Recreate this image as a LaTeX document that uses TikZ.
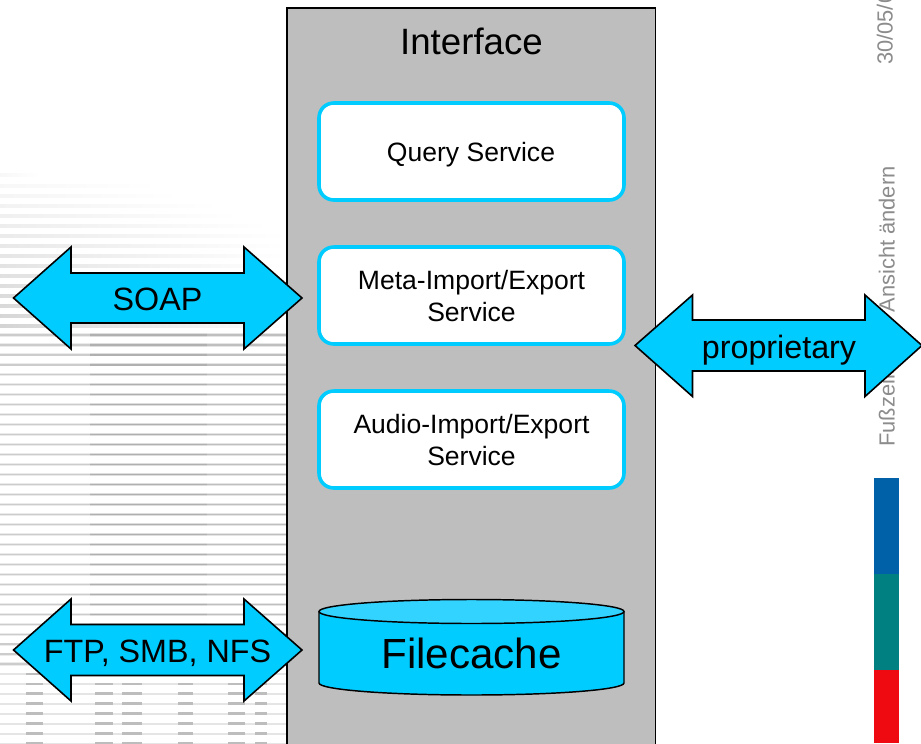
\documentclass[tikz,border=0pt]{standalone}
\usepackage{fontspec}
\setmainfont{Liberation Sans}
\definecolor{cyanfill}{HTML}{00CCFF}
\definecolor{cyantop}{HTML}{33D3FF}
\definecolor{panel}{HTML}{BEBEBE}
\definecolor{footgrey}{HTML}{8C8C8C}
\definecolor{barblue}{HTML}{0060A8}
\definecolor{barteal}{HTML}{008080}
\definecolor{barred}{HTML}{EE0A10}
\tikzset{
  service/.style={draw=cyanfill,line width=2.7pt,fill=white,rounded corners=11pt,minimum width=228.7pt,minimum height=72.7pt,inner sep=0pt},
  servicetext/.style={inner sep=0pt,align=center,font=\fontsize{19.9}{23.8}\selectfont},
  dblarrow/.style={draw=black,line width=1.2pt,fill=cyanfill,line join=miter},
  arrowtext/.style={inner sep=0pt,anchor=base,font=\fontsize{24.2}{28}\selectfont},
  foot/.style={rotate=90,anchor=base west,text=footgrey,inner sep=0pt,font=\fontsize{16.4}{19}\selectfont}
}
\begin{document}
\begin{tikzpicture}[x=0.75pt,y=-0.75pt]
\useasboundingbox (0,0) rectangle (921,743);
\fill[white] (0,0) rectangle (921,743);
% background stripes: fading rows at the top
\foreach \y/\e/\o in {175/40/3,186/160/3,196/180/4,206/220/5,216/240/6,226/270/7,236/287/8,246/287/9,256/287/10,266/287/11,276/287/12,286/287/13,296/287/14,306/287/15,316/287/16,326/287/17}{
  \shade[left color=black!\o,right color=white,shading angle=90] (0,\y-1.4) rectangle (\e,\y+1.4);
}
% full rows
\foreach \k in {33,...,74}{
  \pgfmathsetmacro{\yy}{6+9.97*\k}
  \draw[line width=2.3pt,black!8] (0,\yy)--(90,\yy);
  \draw[line width=0.9pt,black!20] (0,\yy)--(90,\yy);
  \draw[line width=2.3pt,black!13] (90,\yy)--(207,\yy);
  \draw[line width=0.9pt,black!31] (90,\yy)--(207,\yy);
  \draw[line width=2.3pt,black!10] (207,\yy)--(287,\yy);
  \draw[line width=0.9pt,black!25] (207,\yy)--(287,\yy);
}
% bottom rows: dashes
\foreach \k in {67,...,74}{
  \pgfmathsetmacro{\yy}{6+9.97*\k}
  \draw[line width=2.3pt,white] (0,\yy)--(287,\yy);
  \draw[line width=1.6pt,black!10] (0,\yy)--(287,\yy);
  \foreach \a/\b in {26/43,95/113,122/142,178/193,228/245,255/267}{
    \draw[line width=2.2pt,black!26] (\a,\yy)--(\b,\yy);
  }
}
% side bar
\fill[barblue] (874,478) rectangle (899,574);
\fill[barteal] (874,574) rectangle (899,670);
\fill[barred] (874,670) rectangle (899,743);
\node[foot] (date) at (892.5,65) {30/05/0};
\node[foot] (footA) at (894.5,447) {Fußzeile};
\node[foot] (footB) at (894.5,312.5) {Ansicht ändern};
% panel
\draw[line width=1.3pt,fill=panel] (287,750) -- (287,8) -- (655.5,8) -- (655.5,750) -- cycle;
\node[inner sep=0pt,font=\fontsize{27.5}{32}\selectfont] (iface) at (471.5,41.5) {Interface};
\node[service] (query) at (471.5,151.5) {};
\node[servicetext] (querytext) at (471,155) {Query Service};
\node[service] (meta) at (471.5,295.5) {};
\node[servicetext] (metatext) at (471.5,296) {Meta-Import/Export\\Service};
\node[service] (audio) at (471.5,439.5) {};
\node[servicetext] (audiotext) at (471.5,440) {Audio-Import/Export\\Service};
% arrows
\draw[dblarrow] (13.5,298)--(71,247)--(71,273)--(244,273)--(244,247)--(302,298)--(244,349)--(244,323)--(71,323)--(71,349)--cycle;
\node[arrowtext] (soap) at (157.5,310) {SOAP};
\draw[dblarrow] (13.5,650)--(71,599)--(71,624.5)--(244,624.5)--(244,599)--(302,650)--(244,701)--(244,675.5)--(71,675.5)--(71,701)--cycle;
\node[arrowtext] (ftp) at (157.5,662) {FTP, SMB, NFS};
\draw[dblarrow] (635,345.5)--(692.5,295)--(692.5,320)--(865,320)--(865,295)--(922,345.5)--(865,396.5)--(865,371)--(692.5,371)--(692.5,396.5)--cycle;
\node[arrowtext] (prop) at (779,358) {proprietary};
% filecache
\draw[line width=1.1pt,fill=cyanfill] (319,612) -- (319,683) arc[start angle=180,end angle=0,x radius=152.5,y radius=12] -- (624,612) -- cycle;
\draw[line width=1.1pt,fill=cyantop] (471.5,611.5) ellipse[x radius=152.5,y radius=12];
\node[inner sep=0pt,font=\fontsize{31.6}{36}\selectfont] (cache) at (471.5,653.5) {Filecache};
\end{tikzpicture}
\end{document}
